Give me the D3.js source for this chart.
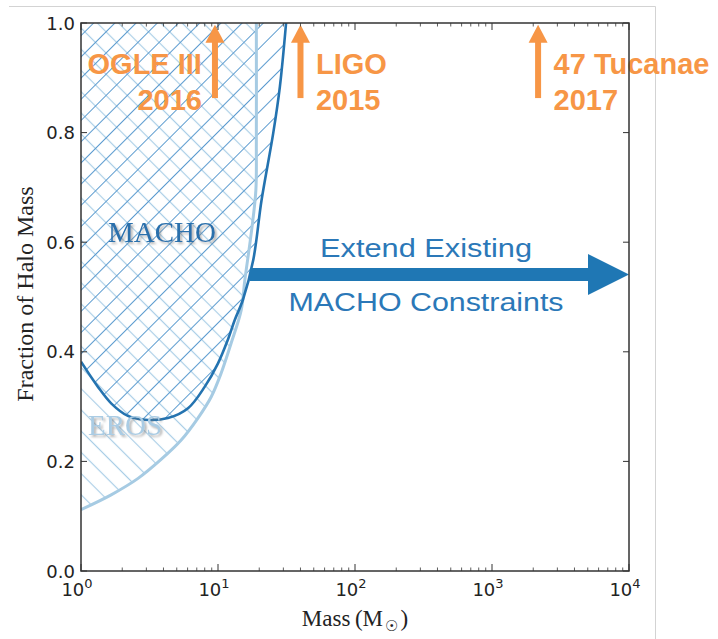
<!DOCTYPE html>
<html>
<head>
<meta charset="utf-8">
<style>
  body { margin: 0; background: #fff; }
  svg { display: block; }
</style>
</head>
<body>
<svg width="718" height="639"></svg>
<script src="https://d3js.org/d3.v7.min.js"></script>
<script>
// ---- data ----
// MACHO exclusion boundary (mass in solar masses, halo fraction)
const machoMass = [1.0, 1.33, 1.66, 2.2, 2.93, 4.31, 6.04, 7.99, 10.0, 11.8, 13.25, 15.2, 18.1, 20.8, 25.3, 28.3, 31.4];
const machoFrac = [0.382, 0.336, 0.306, 0.283, 0.276, 0.279, 0.297, 0.336, 0.379, 0.422, 0.458, 0.495, 0.568, 0.677, 0.799, 0.884, 1.0];

// EROS exclusion boundary
const erosMass = [1.0, 1.66, 2.61, 3.86, 5.39, 7.14, 8.93, 10.54, 12.48, 14.77, 15.7, 17.6, 18.9, 19.05, 19.05];
const erosFrac = [0.112, 0.139, 0.169, 0.204, 0.239, 0.279, 0.318, 0.361, 0.416, 0.476, 0.531, 0.622, 0.695, 0.78, 1.0];

// orange survey markers
const surveyNames = ["OGLE III", "LIGO", "47 Tucanae"];
const surveyYears = ["2016", "2015", "2017"];
const surveyMass = [9.5, 40, 2170];
const surveySide = ["end", "start", "start"];

// big arrow
const extendFrom = 17.1;
const extendTo = 1e4;
const extendFrac = 0.541;
const extendLines = ["Extend Existing", "MACHO Constraints"];

const yTicks = [0, 0.2, 0.4, 0.6, 0.8, 1.0];
const xTickExp = [0, 1, 2, 3, 4];

// ---- layout ----
let svg = d3.select("svg");
let margin = { top: 23, left: 81 };
let w = 548, h = 548;

let x = d3.scaleLog().domain([1, 1e4]).range([margin.left, margin.left + w]);
let y = d3.scaleLinear().domain([0, 1]).range([margin.top + h, margin.top]);

// screenshot frame
svg.append("path")
    .attr("d", "M9,6.5 H655.5 V639")
    .attr("fill", "none")
    .attr("stroke", "#d3d3d3")
    .attr("stroke-width", 1);

let defs = svg.append("defs");
defs.append("clipPath").attr("id", "plotclip")
    .append("rect").attr("x", margin.left).attr("y", margin.top).attr("width", w).attr("height", h);

function hatch(id, angle, color, sw) {
    let p = defs.append("pattern")
        .attr("id", id)
        .attr("patternUnits", "userSpaceOnUse")
        .attr("width", 15).attr("height", 15)
        .attr("patternTransform", `rotate(${angle})`);
    p.append("line")
        .attr("x1", 7.5).attr("y1", 0).attr("x2", 7.5).attr("y2", 15)
        .attr("stroke", color).attr("stroke-width", sw);
}
hatch("hatchMacho", 45, "#5b9bcf", 1);
hatch("hatchEros", -45, "#a9cde6", 1.2);

let shadow = defs.append("filter").attr("id", "shadow")
    .attr("x", "-10%").attr("y", "-20%").attr("width", "130%").attr("height", "150%");
shadow.append("feDropShadow")
    .attr("dx", 2).attr("dy", 2).attr("stdDeviation", 1)
    .attr("flood-color", "#777").attr("flood-opacity", 0.55);

let machoPts = machoMass.map((m, i) => [m, machoFrac[i]]);
let erosPts = erosMass.map((m, i) => [m, erosFrac[i]]);

let line = d3.line()
    .x(d => x(d[0]))
    .y(d => y(d[1]))
    .curve(d3.curveCatmullRom.alpha(0.5));

let plot = svg.append("g").attr("clip-path", "url(#plotclip)");

// hatched regions
function region(pts) {
    let last = pts[pts.length - 1];
    return line(pts) + `L${x(last[0])},${y(1) - 2}L${x(1) - 2},${y(1) - 2}L${x(1) - 2},${y(pts[0][1])}Z`;
}
plot.append("path").attr("d", region(erosPts)).attr("fill", "url(#hatchEros)");
plot.append("path").attr("d", region(machoPts)).attr("fill", "url(#hatchMacho)");

// boundary curves
plot.append("path").attr("d", line(erosPts))
    .attr("fill", "none").attr("stroke", "#a6cbe3").attr("stroke-width", 3);
plot.append("path").attr("d", line(machoPts))
    .attr("fill", "none").attr("stroke", "#2473b0").attr("stroke-width", 2.6);

// labels on the regions
svg.append("text")
    .attr("x", 108).attr("y", 242)
    .attr("font-family", "Liberation Serif, serif")
    .attr("font-size", 29)
    .attr("fill", "#2a70ac")
    .attr("filter", "url(#shadow)")
    .text("MACHO");
svg.append("text")
    .attr("x", 88).attr("y", 435)
    .attr("font-family", "Liberation Serif, serif")
    .attr("font-size", 29)
    .attr("fill", "#aacce4")
    .attr("filter", "url(#shadow)")
    .text("EROS");

// big blue arrow
let ay = y(extendFrac), ax0 = x(extendFrom), ax1 = x(extendTo);
let shaft = 6.5, headLen = 41, headHalf = 20.5;
svg.append("path")
    .attr("d", `M${ax0},${ay - shaft}L${ax1 - headLen},${ay - shaft}L${ax1 - headLen},${ay - headHalf}L${ax1},${ay}` +
        `L${ax1 - headLen},${ay + headHalf}L${ax1 - headLen},${ay + shaft}L${ax0},${ay + shaft}Z`)
    .attr("fill", "#1f77b4");

let textX = x(330);
svg.selectAll(".extend")
    .data(extendLines)
    .join("text")
    .attr("class", "extend")
    .attr("x", textX)
    .attr("y", (d, i) => i === 0 ? ay - 18 : ay + 36.5)
    .attr("text-anchor", "middle")
    .attr("font-family", "Liberation Sans, Arial, sans-serif")
    .attr("font-size", 26)
    .attr("textLength", (d, i) => i === 0 ? 212 : 275)
    .attr("lengthAdjust", "spacingAndGlyphs")
    .attr("fill", "#2b78b8")
    .text(d => d);

// orange markers
let orange = "#f79646";
let surveys = svg.append("g");
surveyMass.forEach((m, i) => {
    let sx = x(m);
    let top = y(0.997), bot = y(0.863);
    surveys.append("rect")
        .attr("x", sx - 3).attr("y", top + 16).attr("width", 6).attr("height", bot - top - 16)
        .attr("fill", orange);
    surveys.append("path")
        .attr("d", `M${sx},${top}L${sx + 9.5},${top + 18}L${sx - 9.5},${top + 18}Z`)
        .attr("fill", orange);
    let tx = surveySide[i] === "end" ? sx - 13 : sx + 15.5;
    [surveyNames[i], surveyYears[i]].forEach((t, j) => {
        surveys.append("text")
            .attr("x", tx).attr("y", j === 0 ? 74 : 110)
            .attr("text-anchor", surveySide[i])
            .attr("font-family", "Liberation Sans, Arial, sans-serif")
            .attr("font-weight", "bold")
            .attr("font-size", 29)
            .attr("fill", orange)
            .text(t);
    });
});

// ---- axes: ticks pointing in, on all four sides ----
let axisColor = "#333";
let ax = svg.append("g").attr("stroke", axisColor);

let majorX = xTickExp.map(e => Math.pow(10, e));
let minorX = [];
xTickExp.slice(0, -1).forEach(e => {
    for (let k = 2; k <= 9; k++) minorX.push(k * Math.pow(10, e));
});

[y(0), y(1)].forEach((yy, side) => {
    let dir = side === 0 ? -1 : 1;
    ax.selectAll(null).data(majorX).join("line")
        .attr("x1", d => x(d)).attr("x2", d => x(d))
        .attr("y1", yy).attr("y2", yy + dir * 7)
        .attr("stroke-width", 1);
    ax.selectAll(null).data(minorX).join("line")
        .attr("x1", d => x(d)).attr("x2", d => x(d))
        .attr("y1", yy).attr("y2", yy + dir * 3.5)
        .attr("stroke-width", 0.8);
});
[x(1), x(1e4)].forEach((xx, side) => {
    let dir = side === 0 ? 1 : -1;
    ax.selectAll(null).data(yTicks).join("line")
        .attr("x1", xx).attr("x2", xx + dir * 6)
        .attr("y1", d => y(d)).attr("y2", d => y(d))
        .attr("stroke-width", 1);
});

svg.append("rect")
    .attr("x", margin.left).attr("y", margin.top)
    .attr("width", w).attr("height", h)
    .attr("fill", "none")
    .attr("stroke", axisColor)
    .attr("stroke-width", 1.5);

// tick labels
svg.append("g").selectAll("text")
    .data(yTicks)
    .join("text")
    .attr("x", margin.left - 6)
    .attr("y", d => y(d) + 6.5)
    .attr("text-anchor", "end")
    .attr("font-family", "DejaVu Sans, sans-serif")
    .attr("font-size", 18)
    .attr("fill", "#222")
    .text(d => d.toFixed(1));

let xl = svg.append("g").selectAll("text")
    .data(xTickExp)
    .join("text")
    .attr("x", d => x(Math.pow(10, d)) - 4)
    .attr("y", 596)
    .attr("text-anchor", "middle")
    .attr("font-family", "DejaVu Sans, sans-serif")
    .attr("font-size", 18)
    .attr("fill", "#222");
xl.append("tspan").text("10");
xl.append("tspan").attr("dy", -8).attr("font-size", 13).text(d => d);

// axis titles
let xt = svg.append("text")
    .attr("x", 355).attr("y", 626)
    .attr("text-anchor", "middle")
    .attr("font-family", "Liberation Serif, serif")
    .attr("font-size", 23)
    .attr("fill", "#222");
xt.append("tspan").text("Mass\u2009(M");
xt.append("tspan").attr("dy", 5).attr("dx", 2).attr("font-size", 15).attr("font-family", "DejaVu Sans, sans-serif").text("\u2609");
xt.append("tspan").attr("dy", -5).attr("dx", 2).text(")");

svg.append("text")
    .attr("transform", "translate(33,294) rotate(-90)")
    .attr("text-anchor", "middle")
    .attr("font-family", "Liberation Serif, serif")
    .attr("font-size", 24)
    .attr("fill", "#222")
    .text("Fraction of Halo Mass");
</script>
</body>
</html>
